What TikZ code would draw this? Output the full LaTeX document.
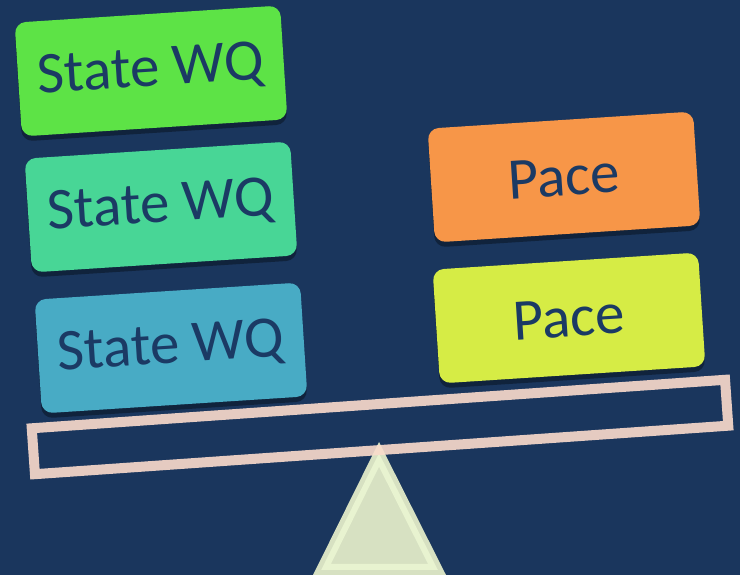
\documentclass[tikz,border=0pt]{standalone}
\usepackage{fontspec}
\setmainfont{Carlito}
\usetikzlibrary{shadows}

\definecolor{navy}{RGB}{26,54,93}
\definecolor{inkblue}{RGB}{27,58,100}
\definecolor{wqgreen}{RGB}{93,227,70}
\definecolor{wqteal}{RGB}{72,214,150}
\definecolor{wqblue}{RGB}{72,171,197}
\definecolor{paceorange}{RGB}{247,150,72}
\definecolor{paceyellow}{RGB}{214,236,69}
\definecolor{beampink}{RGB}{229,203,193}
\definecolor{beamlight}{RGB}{246,220,202}
\definecolor{pivotfill}{RGB}{215,225,194}
\definecolor{pivotband}{RGB}{232,243,208}

\begin{document}
\begin{tikzpicture}[
		x=1pt, y=1pt,
		% cajas de peso sobre la balanza
		weight/.style = {rectangle, rounded corners=11pt, minimum width=266pt, minimum height=114pt,
			text=inkblue, font=\fontsize{59}{62}\selectfont, inner sep=0pt,
			drop shadow={shadow xshift=0pt, shadow yshift=-5pt, opacity=0.35, fill=black}},
		% barra de la balanza
		beamline/.style = {draw=beampink, line width=10pt}
		]
		
		% --- FONDO ---
		\fill[navy] (0,0) rectangle (740,575);
		\useasboundingbox (0,0) rectangle (740,575);
		
		% --- BARRA ---
		\begin{scope}[shift={(380,148)}, rotate=4]
			\draw[beamline] (-347.5,-23) rectangle (347.5,23);
		\end{scope}
		
		% --- PIVOTE ---
		\coordinate (apex) at (379,133);
		\coordinate (baseL) at (313,0);
		\coordinate (baseR) at (446,0);
		\fill[pivotfill] (apex) -- (baseL) -- (baseR) -- cycle;
		\draw[pivotband, line width=6pt] (379,115) -- (326,8) -- (433,8) -- cycle;
		% cruce de la barra con el pivote
		\begin{scope}
			\clip (apex) -- (baseL) -- (baseR) -- cycle;
			\begin{scope}[shift={(380,148)}, rotate=4]
				\draw[beamline, draw=beamlight] (-347.5,-23) rectangle (347.5,23);
			\end{scope}
		\end{scope}
		
		% --- LADO IZQUIERDO: State WQ ---
		\node[weight, fill=wqblue, rotate=3.7] (wq3) at (171,227) {State WQ};
		\node[weight, fill=wqteal, rotate=3.7] (wq2) at (161,368) {State WQ};
		\node[weight, fill=wqgreen, rotate=3.7] (wq1) at (151,504) {State WQ};
		
		% --- LADO DERECHO: Pace ---
		\node[weight, fill=paceyellow, rotate=3.7] (pace2) at (569,257) {Pace};
		\node[weight, fill=paceorange, rotate=3.7] (pace1) at (564,398) {Pace};
		
	\end{tikzpicture}
\end{document}
